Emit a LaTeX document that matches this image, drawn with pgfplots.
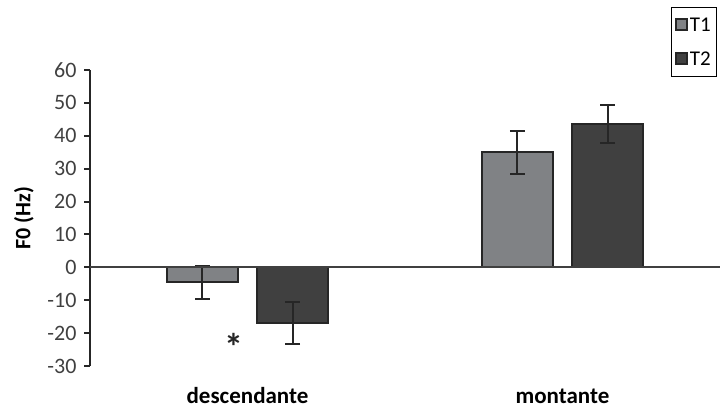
\documentclass[border=0pt]{standalone}
\usepackage{fontspec}
\setmainfont{Carlito}
\usepackage{pgfplots}
\pgfplotsset{compat=1.18}
\definecolor{tone}{HTML}{808285}
\definecolor{ttwo}{HTML}{404040}
\definecolor{edge}{HTML}{262626}
\definecolor{txt}{HTML}{404040}
\begin{document}
\begin{tikzpicture}[x=1pt,y=1pt]
\useasboundingbox (0,0) rectangle (725,410);
\begin{axis}[
 at={(90pt,44pt)}, anchor=south west,
 scale only axis, width=630pt, height=296pt,
 xmin=-0.5, xmax=1.5, ymin=-30, ymax=60,
 axis y line*=left, axis x line*=bottom,
 x axis line style={draw=none},
 y axis line style={line width=2pt, color=edge},
 xtick={0,1}, xticklabels={descendante,montante},
 xtick style={draw=none},
 xticklabel style={font=\fontsize{23}{26}\selectfont\bfseries, text=black, anchor=center, yshift=-24pt},
 ytick={-30,-20,-10,0,10,20,30,40,50,60},
 yticklabels={-30,-20,-10,0,10,20,30,40,50,60},
 tick align=outside, major tick length=6pt,
 ytick style={line width=2pt, color=edge},
 yticklabel style={font=\fontsize{22}{26}\selectfont, text=txt, xshift=-4pt},
 ylabel={F0 (Hz)},
 ylabel style={at={(axis description cs:-0.105,0.5)}, anchor=center, font=\fontsize{22}{26}\selectfont\bfseries, text=black},
 extra y ticks={0}, extra y tick labels={},
 extra y tick style={grid=major, major grid style={line width=1.8pt, color=ttwo}, tick style={draw=none}},
 axis on top,
 legend image code/.code={\draw[#1, line width=1.5pt] (0pt,-5pt) rectangle (11pt,6pt);},
 legend style={at={(0.922,1.2128)}, anchor=north west, draw=black, line width=1.2pt,
   font=\fontsize{21}{24}\selectfont, row sep=15pt, inner ysep=8pt, inner xsep=4pt},
 legend cell align=left,
 error bars/error bar style={line width=2pt, color=edge},
 error bars/error mark options={rotate=90, mark size=7.5pt, line width=2pt, color=edge},
]
\addplot[ybar, bar width=71pt, bar shift=0pt, fill=tone, draw=edge, line width=2pt,
  error bars/.cd, y dir=both, y explicit]
  coordinates {(-0.1429,-4.6) +- (0,5.0) (0.8571,35.0) +- (0,6.5)};
\addlegendentry{T1}
\addplot[ybar, bar width=71pt, bar shift=0pt, fill=ttwo, draw=edge, line width=2pt,
  error bars/.cd, y dir=both, y explicit]
  coordinates {(0.1429,-17.0) +- (0,6.4) (1.1429,43.5) +- (0,5.8)};
\addlegendentry{T2}
\node[font=\fontsize{38}{40}\selectfont\bfseries, text=edge, anchor=center] at (axis cs:-0.043,-24.2) {*};
\end{axis}
\end{tikzpicture}
\end{document}
